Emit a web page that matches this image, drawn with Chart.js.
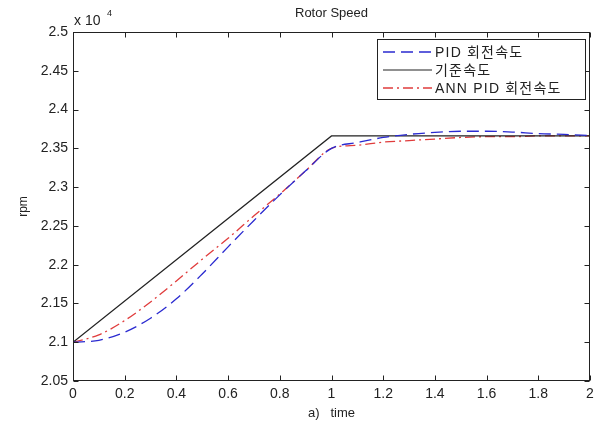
<!DOCTYPE html>
<html>
<head>
<meta charset="utf-8">
<script src="https://cdn.jsdelivr.net/npm/chart.js@4"></script>
<style>
  html, body { margin: 0; padding: 0; background: #fff; }
  #wrap { width: 602px; height: 423px; }
</style>
</head>
<body>
<div id="wrap"><canvas id="rotorChart" width="602" height="423"></canvas></div>
<script>
// values (rpm)
const timeSteps = [0, 0.1, 0.2, 0.3, 0.4, 0.5, 0.6, 0.7, 0.8, 0.9, 1.0, 1.1, 1.2, 1.3, 1.4, 1.5, 1.6, 1.7, 1.8, 1.9, 2.0];
const pidSpeed = [21000, 21025, 21130, 21310, 21560, 21880, 22230, 22570, 22900, 23210, 23500, 23575, 23640, 23680, 23705, 23720, 23720, 23710, 23690, 23680, 23665];
const annSpeed = [21000, 21095, 21280, 21520, 21790, 22070, 22340, 22630, 22910, 23210, 23500, 23540, 23580, 23600, 23620, 23640, 23650, 23650, 23660, 23660, 23660];
const refTime = [0, 1, 2];
const refSpeed = [21000, 23660, 23660];
const seriesLabels = ['PID 회전속도', '기준속도', 'ANN PID 회전속도'];
const xTicks = [0, 0.2, 0.4, 0.6, 0.8, 1, 1.2, 1.4, 1.6, 1.8, 2];
const yTicks = [20500, 21000, 21500, 22000, 22500, 23000, 23500, 24000, 24500, 25000];

const FONT = '"Liberation Sans", Arial, "Noto Sans CJK KR", sans-serif';

function pairs(xs, ys) {
  return xs.map((t, i) => ({ x: t, y: ys[i] }));
}

// MATLAB-like box, inward ticks, title, exponent and legend
const matlabFrame = {
  id: 'matlabFrame',
  afterDatasetsDraw(chart) {
    const { ctx, chartArea: a, scales: { x, y } } = chart;
    const L = Math.round(a.left) + 0.5, R = Math.round(a.right) - 0.5;
    const T = Math.round(a.top) + 0.5, B = Math.round(a.bottom) - 0.5;
    ctx.save();
    ctx.strokeStyle = '#222';
    ctx.lineWidth = 1;
    ctx.setLineDash([]);
    ctx.strokeRect(L, T, R - L, B - T);
    ctx.beginPath();
    xTicks.forEach(v => {
      const px = Math.round(x.getPixelForValue(v)) + 0.5;
      ctx.moveTo(px, B); ctx.lineTo(px, B - 5);
      ctx.moveTo(px, T); ctx.lineTo(px, T + 5);
    });
    yTicks.forEach(v => {
      const py = Math.round(y.getPixelForValue(v)) + 0.5;
      ctx.moveTo(L, py); ctx.lineTo(L + 5, py);
      ctx.moveTo(R, py); ctx.lineTo(R - 5, py);
    });
    ctx.stroke();

    // title
    ctx.fillStyle = '#222';
    ctx.font = '13px ' + FONT;
    ctx.textAlign = 'center';
    ctx.textBaseline = 'middle';
    ctx.fillText('Rotor Speed', (a.left + a.right) / 2, 13);

    // exponent
    ctx.textAlign = 'left';
    ctx.font = '14px ' + FONT;
    ctx.fillText('x 10', a.left + 1, 21);
    ctx.font = '9px ' + FONT;
    ctx.fillText('4', a.left + 34, 14);

    // legend
    const bx = 377.5, by = 39.5, bw = 208, bh = 60;
    ctx.fillStyle = '#fff';
    ctx.fillRect(bx, by, bw, bh);
    ctx.strokeStyle = '#222';
    ctx.strokeRect(bx, by, bw, bh);
    ctx.font = '14px ' + FONT;
    ctx.letterSpacing = '1.2px';
    ctx.textBaseline = 'middle';
    chart.data.datasets.forEach((ds, row) => {
      const ry = 52 + row * 18;
      ctx.strokeStyle = ds.borderColor;
      ctx.lineWidth = ds.borderWidth;
      ctx.setLineDash(ds.borderDash || []);
      ctx.beginPath();
      ctx.moveTo(383, ry);
      ctx.lineTo(432, ry);
      ctx.stroke();
      ctx.fillStyle = '#222';
      ctx.fillText(ds.label, 435, ry + 1);
    });
    ctx.restore();
  }
};

new Chart(document.getElementById('rotorChart'), {
  type: 'line',
  data: {
    datasets: [
      {
        label: seriesLabels[0],
        data: pairs(timeSteps, pidSpeed),
        borderColor: '#2a2ad0',
        borderWidth: 1.3,
        borderDash: [12, 6],
        cubicInterpolationMode: 'monotone',
        pointRadius: 0,
        fill: false
      },
      {
        label: seriesLabels[1],
        data: pairs(refTime, refSpeed),
        borderColor: '#222222',
        borderWidth: 1.2,
        tension: 0,
        pointRadius: 0,
        fill: false
      },
      {
        label: seriesLabels[2],
        data: pairs(timeSteps, annSpeed),
        borderColor: '#e03c3c',
        borderWidth: 1.3,
        borderDash: [10, 4, 2, 4],
        cubicInterpolationMode: 'monotone',
        pointRadius: 0,
        fill: false
      }
    ]
  },
  options: {
    responsive: false,
    animation: false,
    layout: { padding: { top: 32, right: 12, left: 0, bottom: 0 } },
    plugins: {
      legend: { display: false },
      title: { display: false },
      tooltip: { enabled: false }
    },
    scales: {
      x: {
        type: 'linear',
        min: 0,
        max: 2,
        grid: { display: false, drawTicks: false },
        border: { display: false },
        afterBuildTicks: s => { s.ticks = xTicks.map(v => ({ value: v })); },
        afterFit: s => { s.height = 42; },
        ticks: {
          padding: 5,
          color: '#222',
          maxRotation: 0,
          font: { family: FONT, size: 14 },
          callback: v => String(+v.toFixed(1))
        },
        title: {
          display: true,
          text: 'a)   time',
          color: '#222',
          font: { family: FONT, size: 13 },
          padding: { top: 0, bottom: 2 }
        }
      },
      y: {
        type: 'linear',
        min: 20500,
        max: 25000,
        grid: { display: false, drawTicks: false },
        border: { display: false },
        afterBuildTicks: s => { s.ticks = yTicks.map(v => ({ value: v })); },
        afterFit: s => { s.width = 73; },
        ticks: {
          padding: 5,
          color: '#222',
          font: { family: FONT, size: 14 },
          callback: v => String(+(v / 1e4).toFixed(2))
        },
        title: {
          display: true,
          text: 'rpm',
          color: '#222',
          font: { family: FONT, size: 12 },
          padding: { top: 16, bottom: 0 }
        }
      }
    }
  },
  plugins: [matlabFrame]
});
</script>
</body>
</html>
